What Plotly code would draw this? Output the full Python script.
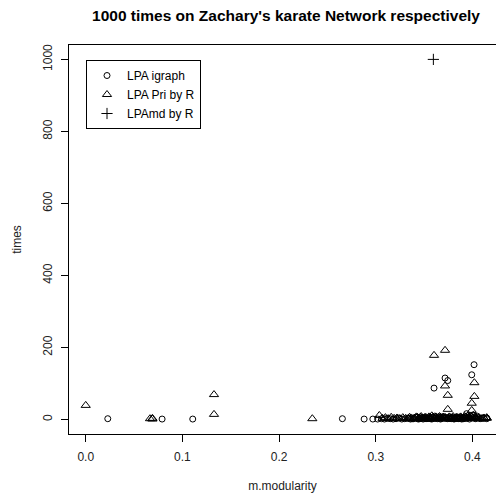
import plotly.graph_objects as go

# ---- data ----
igraph_x = [0.0228, 0.0790, 0.1107, 0.2655, 0.2880, 0.2970,
            0.302, 0.306, 0.309, 0.312, 0.315, 0.318, 0.321, 0.324, 0.327, 0.330,
            0.333, 0.336, 0.339, 0.342, 0.345, 0.347, 0.349, 0.351, 0.353, 0.355,
            0.357, 0.359, 0.3603, 0.362, 0.364, 0.366, 0.368, 0.370, 0.3717, 0.3717,
            0.3745, 0.373, 0.376, 0.378, 0.380, 0.382, 0.384, 0.386, 0.388, 0.390,
            0.392, 0.394, 0.396, 0.3993, 0.398, 0.400, 0.4017, 0.402, 0.404, 0.406,
            0.408, 0.410, 0.412, 0.4148, 0.4148,
            0.334, 0.338, 0.341, 0.344, 0.346, 0.350, 0.352, 0.356, 0.358, 0.361,
            0.363, 0.365, 0.367, 0.369, 0.371, 0.374, 0.377, 0.379, 0.381, 0.383,
            0.385, 0.387, 0.389, 0.391, 0.393, 0.395, 0.397, 0.401, 0.403, 0.405]
igraph_y = [2, 1, 1, 2, 1, 1,
            1, 2, 1, 3, 2, 1, 2, 4, 1, 2,
            3, 1, 2, 5, 2, 3, 1, 4, 2, 3,
            2, 6, 87, 3, 2, 4, 3, 8, 115, 5,
            108, 5, 3, 2, 4, 2, 3, 2, 3, 5,
            4, 16, 6, 124, 9, 4, 152, 7, 3, 5,
            2, 3, 3, 4, 2,
            4, 2, 6, 1, 7, 5, 2, 6, 1, 9,
            5, 7, 1, 6, 4, 2, 7, 5, 1, 6,
            4, 7, 1, 2, 8, 3, 1, 5, 2, 9]

pri_x = [0.0000, 0.0665, 0.0690, 0.0690, 0.1327, 0.1327, 0.2344,
         0.3037, 0.307, 0.310, 0.313, 0.316, 0.319, 0.322, 0.325, 0.328, 0.331,
         0.334, 0.337, 0.340, 0.343, 0.346, 0.348, 0.350, 0.352, 0.354, 0.356,
         0.358, 0.3603, 0.361, 0.363, 0.365, 0.367, 0.369, 0.372, 0.3717, 0.3717,
         0.3745, 0.3745, 0.375, 0.377, 0.379, 0.381, 0.383, 0.385, 0.387, 0.389,
         0.391, 0.393, 0.395, 0.397, 0.3993, 0.3993, 0.399, 0.401, 0.402, 0.402,
         0.404, 0.406, 0.408, 0.410, 0.412, 0.4148, 0.4148,
         0.335, 0.339, 0.342, 0.345, 0.347, 0.349, 0.351, 0.353, 0.355, 0.357,
         0.359, 0.362, 0.364, 0.366, 0.368, 0.370, 0.373, 0.376, 0.378, 0.380,
         0.382, 0.384, 0.386, 0.388, 0.390, 0.392, 0.394, 0.396, 0.398, 0.403]
pri_y = [39, 2, 3, 1, 69, 14, 2,
         11, 3, 5, 2, 6, 3, 4, 2, 5, 3,
         2, 4, 3, 6, 2, 4, 3, 5, 2, 4,
         10, 178, 4, 3, 5, 6, 3, 5, 192, 93,
         67, 28, 4, 2, 3, 3, 5, 2, 4, 3,
         4, 6, 9, 3, 45, 25, 8, 12, 102, 64,
         4, 3, 2, 3, 4, 5, 3,
         6, 1, 7, 3, 8, 1, 6, 2, 7, 1,
         5, 7, 1, 8, 2, 6, 1, 7, 2, 8,
         1, 6, 2, 7, 1, 8, 2, 5, 3, 7]

md_x = [0.3596]
md_y = [1000]

x_ticks = [0.0, 0.1, 0.2, 0.3, 0.4]
y_ticks = [0, 200, 400, 600, 800, 1000]

FONT = "Liberation Sans, Arial, sans-serif"

fig = go.Figure()
fig.add_trace(go.Scatter(x=igraph_x, y=igraph_y, mode="markers", name="LPA igraph",
                         marker=dict(symbol="circle-open", size=6, color="black",
                                     line=dict(width=1, color="black"))))
fig.add_trace(go.Scatter(x=pri_x, y=pri_y, mode="markers", name="LPA Pri by R",
                         marker=dict(symbol="triangle-up-open", size=8, color="black",
                                     line=dict(width=1, color="black"))))
fig.add_trace(go.Scatter(x=md_x, y=md_y, mode="markers", name="LPAmd by R",
                         marker=dict(symbol="cross-thin-open", size=8, color="black",
                                     line=dict(width=1, color="black"))))

fig.update_layout(
    width=496, height=499,
    margin=dict(l=69, r=0, t=45, b=65),
    paper_bgcolor="white", plot_bgcolor="white",
    font=dict(family=FONT, size=12, color="black"),
    title=dict(text="<b>1000 times on Zachary's karate Network respectively</b>",
               font=dict(family=FONT, size=15.5, color="black"),
               x=286 / 496, xref="container", xanchor="center",
               y=1 - 16 / 499, yref="container", yanchor="middle"),
    showlegend=True,
    legend=dict(x=(86 - 69) / 427, y=(434 - 60) / 389, xanchor="left", yanchor="top",
                bordercolor="black", borderwidth=1, bgcolor="white",
                font=dict(family=FONT, size=12, color="black"),
                itemwidth=30, tracegroupgap=0),
    xaxis=dict(range=[-0.0173, 0.4244], tickvals=x_ticks, tickformat=".1f",
               showgrid=False, zeroline=False, showline=True, mirror=True,
               linecolor="black", linewidth=1, ticks="outside", ticklen=7,
               tickcolor="black", tickfont=dict(size=12, color="#222"),
               ticklabelstandoff=5,
               title=dict(text="m.modularity", standoff=18,
                          font=dict(size=12, color="#222"))),
    yaxis=dict(range=[-40.5, 1040], tickvals=y_ticks, tickangle=-90,
               showgrid=False, zeroline=False, showline=True, mirror=False,
               linecolor="black", linewidth=1, ticks="outside", ticklen=7,
               tickcolor="black", tickfont=dict(size=12, color="#222"),
               ticklabelstandoff=4,
               title=dict(text="times", standoff=17,
                          font=dict(size=12, color="#222"))),
)

fig.write_html("out.html")
